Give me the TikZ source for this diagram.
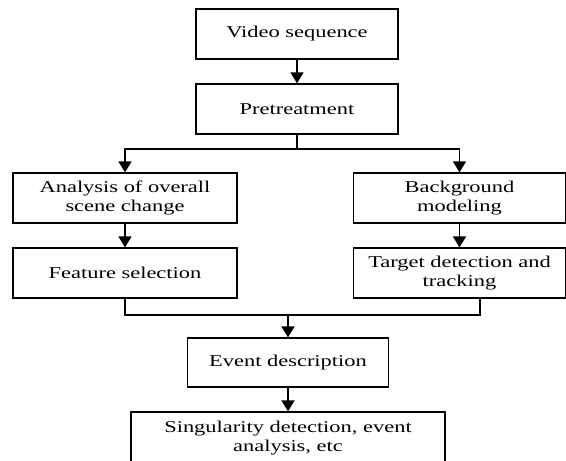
\documentclass[tikz,border=0pt]{standalone}
\usepackage{fontspec}
\setmainfont{Liberation Serif}[FakeStretch=1.36]
\usetikzlibrary{arrows.meta}
\begin{document}
\begin{tikzpicture}[x=1pt,y=-1pt,
  box/.style={draw, line width=1.2pt, minimum height=50pt, align=center,
    inner sep=0pt, font=\fontsize{16.5}{18.5}\selectfont},
  link/.style={line width=1.4pt},
  flow/.style={link, -{Triangle[width=13pt,length=11pt]}}]
\useasboundingbox (0,0) rectangle (566,461);

% main stages
\node[box, minimum width=202pt] (video) at (297,34) {Video sequence};
\node[box, minimum width=202pt] (pre) at (297,109) {Pretreatment};

% left branch: global scene analysis
\node[box, minimum width=224pt] (scene) at (125,198) {Analysis of overall\\scene change};
\node[box, minimum width=224pt] (feat) at (125,273) {Feature selection};

% right branch: object-level analysis
\node[box, minimum width=212pt] (bg) at (459.5,198) {Background\\modeling};
\node[box, minimum width=212pt] (target) at (459.5,273) {Target detection and\\tracking};

% merged stages
\node[box, minimum width=201pt, minimum height=49pt] (event) at (288,362.5) {Event description};
\node[box, minimum width=314pt, minimum height=52pt] (sing) at (288,438) {Singularity detection, event\\analysis, etc};

% connectors
\coordinate (split) at (297,149);
\coordinate (merge) at (288,315);
\draw[flow] (video) -- (pre);
\draw[link] (pre) -- (split);
\draw[flow] (split) -| (scene.north);
\draw[flow] (split) -| (bg.north);
\draw[flow] (scene) -- (feat);
\draw[flow] (bg) -- (target);
\draw[link] (feat.south) |- (merge) -| ([xshift=20.5pt]target.south);
\draw[flow] (merge) -- (event);
\draw[flow] (event) -- (sing);
\end{tikzpicture}
\end{document}
